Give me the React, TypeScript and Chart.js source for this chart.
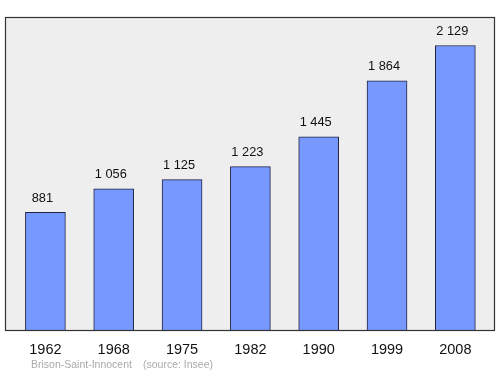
import React, { useEffect, useRef } from "react";
import { Chart, registerables } from "chart.js";

Chart.register(...registerables);

const years = ["1962", "1968", "1975", "1982", "1990", "1999", "2008"];
const population = [881, 1056, 1125, 1223, 1445, 1864, 2129];
const commune = "Brison-Saint-Innocent";
const source = "(source: Insee)";

const fmt = (v: number) => {
  const s = String(v);
  return s.length > 3 ? s.slice(0, s.length - 3) + " " + s.slice(s.length - 3) : s;
};

const FONT = "'Liberation Sans', Arial, sans-serif";

export default function App() {
  const ref = useRef<HTMLCanvasElement | null>(null);

  useEffect(() => {
    if (!ref.current) return;
    const framePlugin = {
      id: "frame",
      beforeDatasetsDraw(chart: any) {
        const ctx = chart.ctx;
        const a = chart.chartArea;
        ctx.save();
        ctx.fillStyle = "#eeeeee";
        ctx.fillRect(5.5, a.top + 0.5, 489, a.bottom - a.top);
        ctx.restore();
      },
      afterDatasetsDraw(chart: any) {
        const ctx = chart.ctx;
        const a = chart.chartArea;
        ctx.save();
        ctx.strokeStyle = "#333333";
        ctx.lineWidth = 1.2;
        ctx.strokeRect(5.5, a.top + 0.5, 489, a.bottom - a.top);
        const meta = chart.getDatasetMeta(0);
        ctx.fillStyle = "#111111";
        ctx.font = "12.8px " + FONT;
        ctx.textAlign = "center";
        ctx.textBaseline = "middle";
        meta.data.forEach((bar: any, i: number) => {
          ctx.fillText(fmt(population[i]), bar.x - 3, bar.y - 14);
        });
        ctx.font = "10.5px " + FONT;
        ctx.fillStyle = "#aaaaaa";
        ctx.textAlign = "left";
        ctx.fillText(commune, 31, 365);
        ctx.fillText(source, 143, 365);
        ctx.restore();
      },
    };
    const chart = new Chart(ref.current, {
      type: "bar",
      data: {
        labels: years,
        datasets: [
          {
            data: population,
            backgroundColor: "#7799ff",
            borderColor: "#222244",
            borderWidth: 1,
            barThickness: 40,
          },
        ],
      },
      options: {
        responsive: false,
        animation: false,
        layout: { padding: { left: 11.25, right: 10.5, top: 17, bottom: 0 } },
        plugins: { legend: { display: false }, tooltip: { enabled: false } },
        scales: {
          x: {
            grid: { display: false },
            border: { display: false },
            ticks: { color: "#111111", font: { size: 14.5, family: FONT }, padding: 3 },
            afterFit: (s: any) => {
              s.height = 44;
            },
          },
          y: { display: false, min: 0, max: 2342 },
        },
      },
      plugins: [framePlugin],
    });
    return () => chart.destroy();
  }, []);

  return (
    <div style={{ position: "absolute", left: 0, top: 0, width: 500, height: 374, background: "#fff" }}>
      <canvas ref={ref} width={500} height={374} />
    </div>
  );
}
